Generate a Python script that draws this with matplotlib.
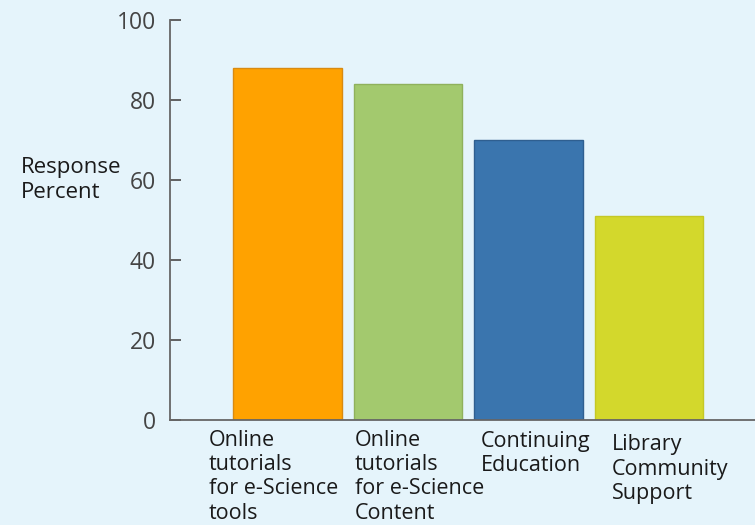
import matplotlib
matplotlib.use("Agg")
import matplotlib.pyplot as plt
import matplotlib.transforms as mtransforms

categories = ["Online\ntutorials\nfor e-Science\ntools",
              "Online\ntutorials\nfor e-Science\nContent",
              "Continuing\nEducation",
              "Library\nCommunity\nSupport"]
response_percent = [88, 84, 70, 51]
bar_colors = ["#ffa200", "#a3c96e", "#3a75ae", "#d3d82c"]
edge_colors = ["#d98a10", "#8fb15c", "#2f5f90", "#c4c826"]
y_ticks = [0, 20, 40, 60, 80, 100]

# where each wrapped category label starts (data x units)
label_x = [-0.655, 0.56, 1.606, 2.69]
label_y = [-0.025, -0.025, -0.027, -0.036]

bg = "#e5f4fb"
plt.rcParams['font.family'] = ['Open Sans', 'DejaVu Sans']

fig = plt.figure(figsize=(7.55, 5.25), dpi=100, facecolor=bg)
ax = fig.add_axes([170/755, 105/525, 585/755, 400/525], facecolor=bg)

x = list(range(len(categories)))
ax.bar(x, response_percent, width=0.9, color=bar_colors,
       edgecolor=edge_colors, linewidth=1.0, zorder=2)

ax.set_xlim(-0.975, 3.88)
ax.set_ylim(0, 100)
ax.set_yticks(y_ticks)
ax.set_xticks([])
ax.tick_params(axis='y', direction='in', length=8, width=1.3,
               color='#555555', labelcolor='#444444', labelsize=16.5, pad=10)

for side in ['top', 'right']:
    ax.spines[side].set_visible(False)
for side in ['left', 'bottom']:
    ax.spines[side].set_color('#666666')
    ax.spines[side].set_linewidth(1.3)

trans = mtransforms.blended_transform_factory(ax.transData, ax.transAxes)
for i, lab in enumerate(categories):
    ax.text(label_x[i], label_y[i], lab, transform=trans, ha='left', va='top',
            fontsize=15.5, color='#1a1a1a', linespacing=1.2, clip_on=False)

fig.text(21/755, 1 - 180/525, "Response\nPercent", ha='left', va='center',
         fontsize=16, color='#1a1a1a', linespacing=1.25)

fig.savefig("out.png", dpi=100, facecolor=bg)
